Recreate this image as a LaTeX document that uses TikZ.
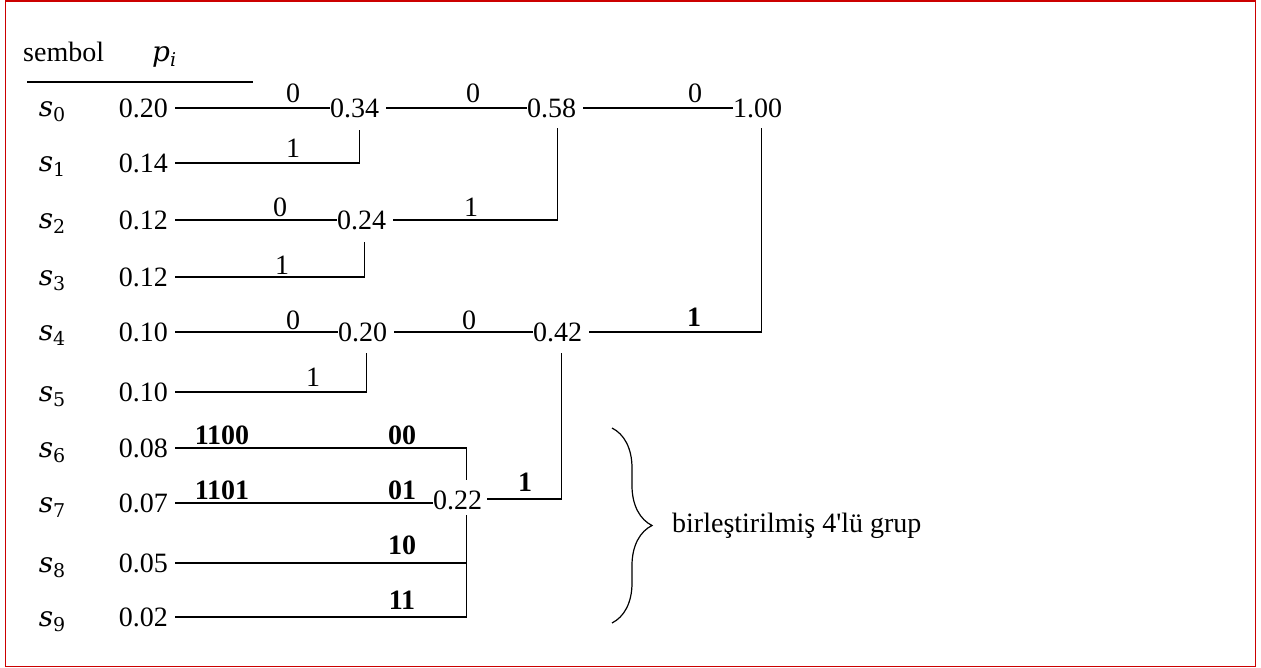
\documentclass[tikz,border=0pt]{standalone}
\usepackage{fontspec}
\setmainfont{Liberation Serif}
\newfontfamily\symfont{DejaVu Serif}
\usetikzlibrary{decorations.pathreplacing}
\definecolor{framered}{RGB}{204,0,0}
% italic symbol with an index set below it
\newcommand{\symidx}[3]{{\symfont\itshape #1}\raisebox{-5pt}{\symfont\fontsize{19}{20}\selectfont#3#2}}
\begin{document}
\begin{tikzpicture}[x=1pt,y=-1pt,
  every node/.style={inner sep=0pt, font=\fontsize{28}{34}\selectfont},
  num/.style={anchor=east},
  mrg/.style={anchor=west},
  sym/.style={anchor=base},
  blbl/.style={font=\fontsize{28}{34}\selectfont\bfseries},
  wire/.style={line width=1.2pt, black}]
\useasboundingbox (0,0) rectangle (1261,668);
\draw[framered, line width=1.5pt] (5.5,1) rectangle (1255.5,666.5);

% table header
\node[anchor=base west] (hsym) at (23,62) {sembol};
\node[sym, anchor=base west] (hp) at (152,62) {\symidx{p}{i}{\itshape}};
\draw[wire] (27,82) -- (253,82);

% symbols and their probabilities
\foreach \i/\y/\p in {0/108/0.20, 1/163/0.14, 2/220/0.12, 3/277/0.12,
                      4/332/0.10, 5/392/0.10, 6/448/0.08, 7/503/0.07,
                      8/563/0.05, 9/617/0.02} {
  \node[sym] (s\i) at (52,\y+9) {\symidx{s}{\i}{\upshape}};
  \node[num] (v\i) at (168,\y) {\p};
}

% merged probabilities
\node[mrg] (m034) at (330,108) {0.34};
\node[mrg] (m024) at (337,220) {0.24};
\node[mrg] (m020) at (338,332) {0.20};
\node[mrg] (m058) at (527,108) {0.58};
\node[mrg] (m042) at (533,332) {0.42};
\node[mrg] (m100) at (733,108) {1.00};
\node[mrg] (m022) at (433,500) {0.22};
\coordinate (t22) at ([xshift=8.5pt,yshift=-5.5pt]m022.south);

% merging tree
\draw[wire] ([xshift=7pt]v0.east) -- (m034.west);
\draw[wire] ([xshift=7pt]v1.east) -| ([xshift=4.5pt,yshift=-12pt]m034.south);
\draw[wire] ([xshift=7pt]m034.east) -- (m058.west);
\draw[wire] ([xshift=7pt]v2.east) -- (m024.west);
\draw[wire] ([xshift=7pt]v3.east) -| ([xshift=2.5pt,yshift=-12pt]m024.south);
\draw[wire] ([xshift=7pt]m024.east) -| ([xshift=5.5pt,yshift=-10.5pt]m058.south);
\draw[wire] ([xshift=7pt]m058.east) -- (m100.west);
\draw[wire] ([xshift=7pt]v4.east) -- (m020.west);
\draw[wire] ([xshift=7pt]v5.east) -| ([xshift=3.5pt,yshift=-11.5pt]m020.south);
\draw[wire] ([xshift=7pt]m020.east) -- (m042.west);
\draw[wire] ([xshift=7pt]m042.east) -| ([xshift=3.5pt,yshift=-10.5pt]m100.south);
\draw[wire] ([xshift=5pt,yshift=1pt]m022.east) -| ([xshift=3.5pt,yshift=-11.5pt]m042.south);
\draw[wire] ([xshift=7pt]v6.east) -| ([xshift=8.5pt,yshift=10.5pt]m022.north);
\draw[wire] ([xshift=7pt]v7.east) -- ([yshift=-3pt]m022.west);
\draw[wire] ([xshift=7pt]v8.east) -- (t22 |- v8.east);
\draw[wire] (t22) |- ([xshift=7pt]v9.east);

% branch labels
\node (l1) at (293,93) {0};
\node (l2) at (293,148) {1};
\node (l3) at (280,207) {0};
\node (l4) at (282,265) {1};
\node (l5) at (293,320) {0};
\node (l6) at (313,377) {1};
\node (l7) at (473,93) {0};
\node (l8) at (471,207) {1};
\node (l9) at (695,93) {0};
\node (l10) at (469,320) {0};
\node[blbl] (l11) at (694,317) {1};
\node[blbl] (l12) at (222,435) {1100};
\node[blbl] (l13) at (402,435) {00};
\node[blbl] (l14) at (222,490) {1101};
\node[blbl] (l15) at (402,490) {01};
\node[blbl] (l16) at (402,545) {10};
\node[blbl] (l17) at (402,600) {11};
\node[blbl] (l18) at (525,482) {1};

% group brace
\draw[line width=1.2pt, decorate, decoration={brace, amplitude=40pt}]
  (612,428) -- (612,623);
\node[anchor=west] (grp) at (672,526) {birleştirilmiş 4\textquotesingle lü grup};
\end{tikzpicture}
\end{document}
